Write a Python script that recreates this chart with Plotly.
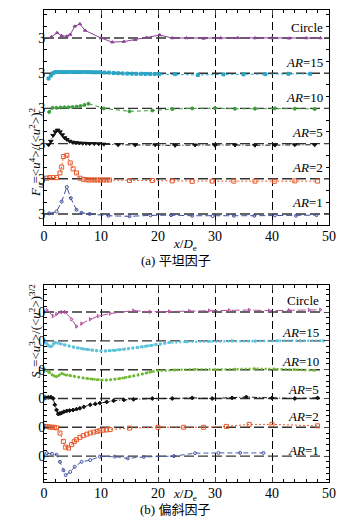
import plotly.graph_objects as go

W, H = 354, 527

# ---------------- data: flatness factor F_u (panel a) ----------------
circle_F_x = [1.3, 2.3, 3.1, 4.0, 4.6, 5.4, 6.3, 7.2, 10.0, 12.0, 14.0, 16.0, 18.0, 20.3, 22.5, 25, 28, 31, 34, 37, 40, 43, 46, 48.5]
circle_F = [3.1, 3.45, 3.2, 3.15, 3.3, 4.0, 4.2, 3.65, 3.0, 2.65, 2.7, 2.85, 3.05, 3.25, 3.0, 3.0, 2.97, 3.0, 3.02, 3.0, 3.0, 2.98, 3.0, 3.0]

ar15_F_x = [0.8, 1.2, 1.6, 2.0, 2.6, 3.2, 3.8, 4.4, 5.0, 5.6, 6.2, 6.8, 7.4, 8.0, 8.6, 9.2, 9.8, 10.6, 11.4, 12.2, 13.0, 13.8, 14.6, 15.4, 16.2, 17.0, 17.8, 18.6, 19.4, 20.2, 23, 27, 31.5, 35, 38.8, 42.9, 46.7]
ar15_F = [2.55, 2.8, 3.0, 3.1, 3.1, 3.1, 3.1, 3.1, 3.1, 3.1, 3.1, 3.1, 3.1, 3.1, 3.08, 3.08, 3.08, 3.06, 3.05, 3.02, 3.0, 2.98, 2.97, 2.96, 2.95, 2.95, 2.94, 2.94, 2.93, 2.93, 2.92, 2.85, 2.9, 2.9, 2.92, 2.95, 2.95]

ar10_F_x = [0.9, 1.5, 2.2, 2.9, 3.6, 4.3, 5.0, 5.7, 6.4, 7.1, 7.8, 10.5, 15.0, 19.0, 22.5, 26, 30, 33.5, 37, 40.5, 44, 47.5]
ar10_F = [2.7, 3.05, 3.05, 3.08, 3.1, 3.1, 3.12, 3.15, 3.2, 3.3, 3.4, 3.0, 2.75, 2.82, 2.95, 3.0, 3.02, 2.97, 2.98, 3.0, 2.98, 2.95]

ar5_F_x = [0.8, 1.2, 1.6, 2.0, 2.4, 2.8, 3.2, 3.6, 4.0, 4.5, 5.0, 5.6, 6.2, 6.8, 7.4, 8.0, 8.8, 9.6, 10.5, 13, 16, 19.5, 23, 26.5, 30, 33.5, 37, 40.5, 44, 47.5]
ar5_F = [2.9, 3.2, 3.7, 4.0, 4.15, 4.0, 3.75, 3.5, 3.35, 3.2, 3.12, 3.08, 3.05, 3.03, 3.02, 3.0, 3.0, 2.98, 2.95, 2.9, 2.88, 2.9, 2.85, 2.88, 2.85, 2.88, 2.86, 2.87, 2.9, 2.9]

ar2_F_x = [0.5, 1.0, 1.6, 2.2, 2.8, 3.1, 3.4, 4.0, 4.6, 5.1, 5.7, 6.3, 6.9, 7.4, 7.9, 8.4, 8.9, 9.4, 9.9, 10.4, 10.9, 11.5, 15, 19, 22.5, 26, 29.5, 33.3, 37, 40.4, 44, 48]
ar2_F = [3.05, 3.1, 3.1, 3.1, 3.5, 4.0, 4.9, 5.0, 4.35, 3.85, 3.5, 3.05, 2.95, 2.92, 2.9, 2.9, 2.9, 2.9, 2.9, 2.9, 2.9, 2.9, 2.85, 2.85, 2.82, 2.78, 2.8, 2.8, 2.8, 2.78, 2.82, 2.8]

ar1_F_x = [0.9, 2.2, 3.1, 4.0, 4.7, 5.7, 6.6, 8.0, 11.3, 15, 18.7, 22.3, 26, 29.6, 33.3, 36.9, 40.5, 44.2, 47.8]
ar1_F = [3.05, 3.2, 4.05, 5.3, 4.35, 3.35, 3.1, 3.0, 2.85, 2.8, 2.88, 2.9, 2.85, 2.82, 2.85, 2.85, 2.88, 2.85, 2.9]

# ---------------- data: skewness factor S_u (panel b) ----------------
circle_S_x = [0.5, 1.6, 2.2, 3.1, 3.7, 4.85, 5.7, 6.6, 8.1, 9.5, 11.6, 15.7, 18.6, 22, 25.5, 29, 32.5, 36, 39.5, 43, 46.5, 48.5]
circle_S = [0.07, -0.14, -0.07, 0.0, 0.0, -0.25, -0.5, -0.4, -0.25, -0.14, -0.05, 0.05, 0.01, 0.02, 0.04, 0.05, 0.06, 0.07, 0.05, 0.06, 0.07, 0.08]

ar15_S_x = [0.2, 0.5, 0.8, 1.1, 1.4, 1.7, 2.0, 2.8, 3.6, 4.4, 5.2, 6.0, 6.8, 7.6, 8.4, 9.2, 10.0, 10.8, 11.6, 12.4, 13.2, 14.0, 14.8, 15.6, 16.4, 17.2, 18.0, 18.8, 19.6, 20.4, 21.2, 22.0, 25, 29, 33, 37, 41, 45, 49]
ar15_S = [0.0, -0.1, -0.17, -0.2, -0.18, -0.1, -0.06, -0.1, -0.14, -0.18, -0.22, -0.25, -0.28, -0.3, -0.32, -0.34, -0.35, -0.35, -0.34, -0.33, -0.31, -0.29, -0.27, -0.25, -0.23, -0.21, -0.18, -0.16, -0.13, -0.11, -0.08, -0.06, -0.03, -0.02, 0.0, -0.01, 0.0, 0.0, 0.0]

ar10_S_x = [0.2, 0.6, 1.0, 1.4, 1.8, 2.2, 2.6, 3.1, 3.7, 4.5, 5.3, 6.1, 6.9, 7.7, 8.5, 9.3, 10.1, 10.9, 11.7, 12.5, 13.3, 14.1, 14.9, 15.7, 16.5, 17.3, 18.1, 18.9, 20, 23, 26.5, 30, 33.5, 37, 40.5, 44, 47.5]
ar10_S = [0.0, -0.05, -0.1, -0.18, -0.22, -0.24, -0.2, -0.13, -0.18, -0.2, -0.23, -0.26, -0.29, -0.31, -0.33, -0.35, -0.36, -0.36, -0.35, -0.33, -0.31, -0.28, -0.25, -0.22, -0.19, -0.15, -0.11, -0.07, -0.04, -0.01, 0.01, 0.0, 0.02, 0.03, 0.02, 0.0, -0.02]

ar5_S_x = [0.3, 0.75, 1.2, 1.6, 1.9, 2.2, 2.5, 2.8, 3.1, 3.5, 4.0, 4.5, 5.1, 5.7, 6.3, 7.0, 8.1, 9.0, 9.8, 11.0, 12.2, 14.0, 15.7, 19, 22.5, 26, 29.5, 33, 35.5, 40, 44, 48]
ar5_S = [0.03, 0.04, 0.05, 0.0, -0.22, -0.4, -0.54, -0.52, -0.5, -0.46, -0.43, -0.42, -0.4, -0.37, -0.34, -0.29, -0.22, -0.19, -0.16, -0.12, -0.08, -0.05, -0.03, 0.0, 0.0, 0.02, 0.0, 0.02, 0.05, 0.02, 0.0, 0.02]

ar2_S_x = [0.2, 0.6, 1.0, 1.4, 1.8, 2.2, 2.8, 3.4, 3.8, 4.3, 4.85, 5.3, 5.7, 6.3, 6.9, 7.5, 8.1, 8.7, 9.3, 9.8, 10.4, 11.0, 11.6, 15, 20, 24.5, 28, 32, 36, 40, 48]
ar2_S = [0.03, 0.02, 0.01, 0.0, 0.0, -0.02, -0.2, -0.49, -0.69, -0.72, -0.6, -0.5, -0.43, -0.35, -0.29, -0.24, -0.2, -0.17, -0.14, -0.12, -0.1, -0.09, -0.08, -0.03, 0.0, 0.0, 0.0, 0.03, 0.1, 0.1, 0.05]

ar1_S_x = [0.5, 1.4, 2.2, 2.8, 3.4, 3.8, 4.6, 5.4, 6.6, 8.1, 9.8, 12.4, 14.7, 17.5, 22.8, 26.5, 30.6, 34.4, 38.5]
ar1_S = [0.1, 0.08, 0.05, -0.2, -0.49, -0.66, -0.55, -0.37, -0.2, -0.14, -0.02, -0.02, -0.08, -0.03, 0.0, 0.1, 0.11, 0.11, 0.11]

case_labels = ["Circle", "<i>AR</i>=15", "<i>AR</i>=10", "<i>AR</i>=5", "<i>AR</i>=2", "<i>AR</i>=1"]
offsets_F = [15, 12, 9, 6, 3, 0]      # vertical shift of each case, panel a
offsets_S = [5, 4, 3, 2, 1, 0]        # vertical shift of each case, panel b
F_ref = 3.0
S_ref = 0.0
x_ticks = [0, 10, 20, 30, 40, 50]

FONT = "Liberation Serif, Times New Roman, Noto Sans CJK SC"

def px_x(p):
    return p / W

def px_y(p):
    return 1 - p / H

fig = go.Figure()

styles_F = [
    dict(color="#8a4595", dash="solid", width=1, symbol="triangle-up", size=3),
    dict(color="#2aa6c6", dash="3px,2px", width=1, symbol="square", size=3),
    dict(color="#3b9c3b", dash="4px,3px", width=1, symbol="circle", size=3),
    dict(color="#111111", dash="5px,2px,1px,2px", width=1, symbol="triangle-down", size=4),
    dict(color="#e8582a", dash="2px,2px", width=1, symbol="square-open", size=4),
    dict(color="#3f4d9e", dash="6px,3px", width=1, symbol="circle-open", size=3),
]
styles_S = [
    dict(color="#b04f9c", dash="8px,3px", width=1, symbol="triangle-right-open", size=3),
    dict(color="#5cc3da", dash="2px,2px", width=2.5, symbol="square", size=2),
    dict(color="#6cb92f", dash="2px,2px", width=2.5, symbol="circle", size=2),
    dict(color="#111111", dash="5px,2px,1px,2px", width=1, symbol="diamond", size=3),
    dict(color="#e8582a", dash="2px,2px", width=1, symbol="square-open", size=4),
    dict(color="#4a58a6", dash="5px,3px", width=1, symbol="circle-open", size=3),
]

F_series = [(circle_F_x, circle_F), (ar15_F_x, ar15_F), (ar10_F_x, ar10_F),
            (ar5_F_x, ar5_F), (ar2_F_x, ar2_F), (ar1_F_x, ar1_F)]
S_series = [(circle_S_x, circle_S), (ar15_S_x, ar15_S), (ar10_S_x, ar10_S),
            (ar5_S_x, ar5_S), (ar2_S_x, ar2_S), (ar1_S_x, ar1_S)]

# reference (baseline) dashed lines
for off in offsets_F:
    fig.add_trace(go.Scatter(x=[0, 50], y=[off, off], mode="lines", xaxis="x", yaxis="y",
                             line=dict(color="#333333", width=1.4, dash="10px,4px"),
                             showlegend=False, hoverinfo="skip"))
for off in offsets_S:
    fig.add_trace(go.Scatter(x=[0, 49], y=[off, off], mode="lines", xaxis="x2", yaxis="y2",
                             line=dict(color="#333333", width=1.4, dash="10px,4px"),
                             showlegend=False, hoverinfo="skip"))

for (xs, ys), off, st in zip(F_series, offsets_F, styles_F):
    fig.add_trace(go.Scatter(
        x=xs, y=[v - F_ref + off for v in ys], mode="lines+markers", xaxis="x", yaxis="y",
        line=dict(color=st["color"], width=st["width"], dash=st["dash"]),
        marker=dict(symbol=st["symbol"], size=st["size"], color=st["color"],
                    line=dict(color=st["color"], width=1)),
        showlegend=False))

for (xs, ys), off, st in zip(S_series, offsets_S, styles_S):
    fig.add_trace(go.Scatter(
        x=xs, y=[v - S_ref + off for v in ys], mode="lines+markers", xaxis="x2", yaxis="y2",
        line=dict(color=st["color"], width=st["width"], dash=st["dash"]),
        marker=dict(symbol=st["symbol"], size=st["size"], color=st["color"],
                    line=dict(color=st["color"], width=1)),
        showlegend=False))

xdom = [px_x(44), px_x(329)]
common_x = dict(range=[0, 50], tickvals=x_ticks, ticks="inside", ticklen=5, tickwidth=1,
                showline=True, linecolor="black", linewidth=1, mirror="allticks",
                showgrid=True, gridcolor="black", griddash="8px,4px", gridwidth=1,
                zeroline=False, automargin=False, ticklabelstandoff=-2,
                tickfont=dict(family=FONT, size=14, color="black"),
                minor=dict(dtick=2, ticks="inside", ticklen=3, tickcolor="black", showgrid=False))

fig.update_layout(
    template="none",
    width=W, height=H, margin=dict(l=0, r=0, t=0, b=0, autoexpand=False),
    paper_bgcolor="white", plot_bgcolor="white",
    font=dict(family=FONT, size=13, color="black"),
    xaxis=dict(domain=xdom, anchor="y", **common_x),
    xaxis2=dict(domain=xdom, anchor="y2", **common_x),
    yaxis=dict(domain=[px_y(225), px_y(10)], anchor="x", automargin=False,
               range=[-0.94, 17.39], tickvals=offsets_F, ticktext=["3"] * len(offsets_F),
               ticks="inside", ticklen=5, showline=True, linecolor="black", linewidth=1,
               mirror="allticks", showgrid=False, zeroline=False, ticklabelstandoff=-5,
               tickfont=dict(family=FONT, size=14, color="black"),
               minor=dict(dtick=1, tick0=0, ticks="inside", ticklen=3, tickcolor="black", showgrid=False)),
    yaxis2=dict(domain=[px_y(482), px_y(285)], anchor="x2", automargin=False,
                range=[-0.9, 5.94], tickvals=offsets_S, ticktext=["0"] * len(offsets_S),
                ticks="inside", ticklen=5, showline=True, linecolor="black", linewidth=1,
                mirror="allticks", showgrid=False, zeroline=False, ticklabelstandoff=-5,
                tickfont=dict(family=FONT, size=14, color="black"),
                minor=dict(dtick=0.2, tick0=0, ticks="inside", ticklen=3, tickcolor="black", showgrid=False)),
)

ann = []
# case labels
lab_dy_F = [11, 11, 11, 11, 11, 11]
lab_dy_S = [12, 8, 8, 9, 11, 6]
for lab, off, dy in zip(case_labels, offsets_F, lab_dy_F):
    ann.append(dict(x=px_x(325), y=off, xref="paper", yref="y", text=lab, showarrow=False,
                    xanchor="right", yanchor="middle", yshift=dy,
                    font=dict(family=FONT, size=13, color="black")))
for lab, off, dy in zip(case_labels, offsets_S, lab_dy_S):
    ann.append(dict(x=px_x(321), y=off, xref="paper", yref="y2", text=lab, showarrow=False,
                    xanchor="right", yanchor="middle", yshift=dy,
                    font=dict(family=FONT, size=13, color="black")))

# axis titles
ann.append(dict(x=px_x(25), y=px_y(105), xref="paper", yref="paper", textangle=-90,
                text="<i>F<sub>u</sub></i>=&lt;<i>u</i><sup>4</sup>&gt;/(&lt;<i>u</i><sup>2</sup>&gt;)<sup>2</sup>",
                showarrow=False, font=dict(family=FONT, size=13, color="black")))
ann.append(dict(x=px_x(25), y=px_y(380), xref="paper", yref="paper", textangle=-90,
                text="<i>S<sub>u</sub></i>=&lt;<i>u</i><sup>3</sup>&gt;/(&lt;<i>u</i><sup>2</sup>&gt;)<sup>3/2</sup>",
                showarrow=False, font=dict(family=FONT, size=13, color="black")))
for ypx in (245, 505):
    ann.append(dict(x=px_x(185), y=px_y(ypx), xref="paper", yref="paper",
                    text="<i>x</i>/<i>D</i><sub>e</sub>", showarrow=False,
                    font=dict(family=FONT, size=13, color="black")))
ann.append(dict(x=px_x(176), y=px_y(260), xref="paper", yref="paper", text="(a) 平坦因子",
                showarrow=False, font=dict(family=FONT, size=13, color="black")))
ann.append(dict(x=px_x(175), y=px_y(519), xref="paper", yref="paper", text="(b) 偏斜因子",
                showarrow=False, font=dict(family=FONT, size=13, color="black")))
fig.update_layout(annotations=ann)

fig.write_html("out.html", config={"displayModeBar": False},
               post_script="document.body.style.margin='0';document.body.style.padding='0';document.documentElement.style.overflow='hidden';")
